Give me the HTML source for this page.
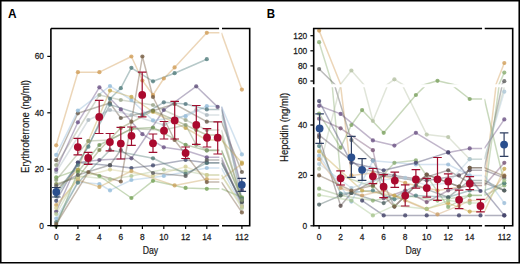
<!DOCTYPE html>
<html><head><meta charset="utf-8"><style>
html,body{margin:0;padding:0;background:#fff;}
body{width:520px;height:264px;overflow:hidden;position:relative;}
svg{position:absolute;left:0;top:0;}
text{font-family:"Liberation Sans",sans-serif;fill:#1a1a1a;}
.tk{font-size:9.6px;stroke:#1a1a1a;stroke-width:0.25px;}
.lb{font-size:10px;stroke:#1a1a1a;stroke-width:0.2px;}
.pl{font-size:12.5px;font-weight:bold;fill:#000;}
</style></head><body>
<svg width="520" height="264" viewBox="0 0 520 264">
<defs>
<filter id="bl" x="-5%" y="-5%" width="110%" height="110%"><feGaussianBlur stdDeviation="0.5"/></filter>
<clipPath id="cAL"><rect x="50.6" y="28.5" width="169.0" height="197.1"/></clipPath>
<clipPath id="cAR"><rect x="221.4" y="28.5" width="28.1" height="197.1"/></clipPath>
<clipPath id="cBUL"><rect x="313.9" y="28.5" width="168.3" height="55.7"/></clipPath>
<clipPath id="cBUR"><rect x="484.4" y="28.5" width="28" height="55.7"/></clipPath>
<clipPath id="cBLL"><rect x="313.9" y="87.3" width="168.3" height="138.45"/></clipPath>
<clipPath id="cBLR"><rect x="484.4" y="87.3" width="28" height="138.45"/></clipPath>
</defs>
<rect x="0" y="0" width="520" height="264" fill="#fff"/>
<g filter="url(#bl)"><g fill="none" stroke-width="1.5" stroke-opacity="0.42" stroke-linejoin="round"><g clip-path="url(#cAL)"><polyline points="56.2,145.3 77.9,72.2 99.4,72.2 131.4,56.5 142.4,80.5 153.0,95.0 163.8,78.5 174.6,67.4 206.8,32.8 219.6,32.8" stroke="#d19e57"/><polyline points="56.2,160.2 77.9,113.3 110.0,103.0 120.8,118.0 153.0,110.8 174.6,104.0 206.8,121.7 219.6,121.7" stroke="#675a4b"/><polyline points="56.2,165.0 99.4,95.0 120.8,100.0 153.0,105.0 185.6,120.0 206.8,130.0 219.6,130.0" stroke="#9aa58b"/><polyline points="56.2,172.0 88.4,120.0 110.0,110.0 131.4,115.0 163.8,125.0 196.2,110.0 206.8,115.0 219.6,115.0" stroke="#aab7be"/><polyline points="56.2,196.2 88.4,146.7 110.0,98.8 120.8,88.2 131.4,67.8 153.0,81.3 174.6,73.2 206.8,59.2" stroke="#517d7d"/><polyline points="56.2,169.7 77.9,122.3 99.4,87.3 120.8,109.4 142.4,134.2 163.8,147.3 185.6,150.5 206.8,157.3 219.6,157.3" stroke="#6a5185"/><polyline points="56.2,211.5 77.9,162.5 99.4,160.0 131.4,158.3 163.8,110.0 196.2,86.3 217.6,106.9 219.6,106.9" stroke="#5f4f7b"/><polyline points="56.2,154.9 77.9,110.6 110.0,86.0 131.4,100.0 153.0,120.4 185.6,116.2 206.8,106.2 219.6,106.2" stroke="#93bbd9"/><polyline points="56.2,218.5 77.9,182.0 99.4,184.0 110.0,190.4 131.4,180.0 163.8,176.0 206.8,168.0 219.6,168.0" stroke="#95bddb"/><polyline points="56.2,200.8 77.9,162.5 110.0,165.4 131.4,168.0 153.0,165.4 185.6,160.0 206.8,162.7 219.6,162.7" stroke="#41486b"/><polyline points="56.2,177.4 77.9,169.7 99.4,176.0 131.4,198.0 153.0,180.8 185.6,187.9 206.8,188.8 219.6,188.8" stroke="#76a256"/><polyline points="56.2,205.0 77.9,180.0 99.4,186.9 131.4,171.0 174.6,185.4 206.8,179.2 219.6,179.2" stroke="#caa45e"/><polyline points="56.2,190.0 77.9,170.0 88.4,141.0 110.0,90.6 131.4,96.9 153.0,112.0 185.6,128.0 206.8,140.0 219.6,140.0" stroke="#c5a84f"/><polyline points="56.2,184.0 77.9,177.4 99.4,150.0 120.8,128.0 153.0,110.8 174.6,120.0 196.2,130.0 206.8,135.0 219.6,135.0" stroke="#798347"/><polyline points="56.2,226.0 77.9,172.0 99.4,145.0 131.4,128.8 153.0,127.5 185.6,144.8 206.8,150.6 219.6,150.6" stroke="#6c9252"/><polyline points="56.2,214.0 77.9,176.0 110.0,179.2 131.4,176.0 163.8,169.6 185.6,171.0 206.8,175.0 219.6,175.0" stroke="#b0c696"/><polyline points="56.2,208.0 77.9,178.0 110.0,169.6 153.0,176.0 185.6,166.7 206.8,175.0 219.6,175.0" stroke="#d5ce94"/><polyline points="56.2,222.0 77.9,182.7 110.0,150.0 153.0,158.3 185.6,173.8 206.8,162.9 219.6,162.9" stroke="#557b76"/><polyline points="56.2,192.0 77.9,165.0 110.0,104.6 142.4,115.0 163.8,102.3 185.6,104.0 206.8,109.4 219.6,109.4" stroke="#53777f"/><polyline points="56.2,224.0 88.4,172.1 120.8,181.5 131.4,121.7 142.4,56.5 153.0,97.0 174.6,140.0 206.8,182.1 219.6,182.1" stroke="#745a40"/><polyline points="56.2,186.0 77.9,175.0 110.0,165.0 120.8,150.0 153.0,173.0 185.6,176.0 206.8,160.0 219.6,160.0" stroke="#5a5a5a"/><polyline points="56.2,180.0 88.4,141.0 110.0,140.0 131.4,128.8 163.8,130.0 185.6,125.0 196.2,144.8 206.8,150.0 219.6,150.0" stroke="#8a9b75"/></g><g clip-path="url(#cAR)"><polyline points="221.4,32.8 241.9,89.6" stroke="#d19e57"/><polyline points="221.4,121.7 241.9,172.0" stroke="#675a4b"/><polyline points="221.4,130.0 241.9,200.0" stroke="#9aa58b"/><polyline points="221.4,115.0 241.9,190.0" stroke="#aab7be"/><polyline points="221.4,157.3 241.9,206.0" stroke="#6a5185"/><polyline points="221.4,106.9 241.9,190.0" stroke="#5f4f7b"/><polyline points="221.4,106.2 241.9,154.4" stroke="#93bbd9"/><polyline points="221.4,168.0 241.9,206.0" stroke="#95bddb"/><polyline points="221.4,162.7 241.9,202.0" stroke="#41486b"/><polyline points="221.4,188.8 241.9,197.3" stroke="#76a256"/><polyline points="221.4,179.2 241.9,163.8" stroke="#caa45e"/><polyline points="221.4,140.0 241.9,162.7" stroke="#c5a84f"/><polyline points="221.4,135.0 241.9,200.0" stroke="#798347"/><polyline points="221.4,150.6 241.9,198.0" stroke="#6c9252"/><polyline points="221.4,175.0 241.9,208.0" stroke="#b0c696"/><polyline points="221.4,175.0 241.9,206.0" stroke="#d5ce94"/><polyline points="221.4,162.9 241.9,202.0" stroke="#557b76"/><polyline points="221.4,109.4 241.9,199.0" stroke="#53777f"/><polyline points="221.4,182.1 241.9,212.4" stroke="#745a40"/><polyline points="221.4,160.0 241.9,202.0" stroke="#5a5a5a"/><polyline points="221.4,150.0 241.9,200.0" stroke="#8a9b75"/></g></g><g fill-opacity="0.8"><circle cx="56.2" cy="145.3" r="2.1" fill="#d19e57"/><circle cx="77.9" cy="72.2" r="2.1" fill="#d19e57"/><circle cx="99.4" cy="72.2" r="2.1" fill="#d19e57"/><circle cx="131.4" cy="56.5" r="2.1" fill="#d19e57"/><circle cx="142.4" cy="80.5" r="2.1" fill="#d19e57"/><circle cx="153.0" cy="95.0" r="2.1" fill="#d19e57"/><circle cx="163.8" cy="78.5" r="2.1" fill="#d19e57"/><circle cx="174.6" cy="67.4" r="2.1" fill="#d19e57"/><circle cx="206.8" cy="32.8" r="2.1" fill="#d19e57"/><circle cx="241.9" cy="89.6" r="2.1" fill="#d19e57"/><circle cx="56.2" cy="160.2" r="2.1" fill="#675a4b"/><circle cx="77.9" cy="113.3" r="2.1" fill="#675a4b"/><circle cx="110.0" cy="103.0" r="2.1" fill="#675a4b"/><circle cx="120.8" cy="118.0" r="2.1" fill="#675a4b"/><circle cx="153.0" cy="110.8" r="2.1" fill="#675a4b"/><circle cx="174.6" cy="104.0" r="2.1" fill="#675a4b"/><circle cx="206.8" cy="121.7" r="2.1" fill="#675a4b"/><circle cx="241.9" cy="172.0" r="2.1" fill="#675a4b"/><circle cx="56.2" cy="165.0" r="2.1" fill="#9aa58b"/><circle cx="99.4" cy="95.0" r="2.1" fill="#9aa58b"/><circle cx="120.8" cy="100.0" r="2.1" fill="#9aa58b"/><circle cx="153.0" cy="105.0" r="2.1" fill="#9aa58b"/><circle cx="185.6" cy="120.0" r="2.1" fill="#9aa58b"/><circle cx="206.8" cy="130.0" r="2.1" fill="#9aa58b"/><circle cx="241.9" cy="200.0" r="2.1" fill="#9aa58b"/><circle cx="56.2" cy="172.0" r="2.1" fill="#aab7be"/><circle cx="88.4" cy="120.0" r="2.1" fill="#aab7be"/><circle cx="110.0" cy="110.0" r="2.1" fill="#aab7be"/><circle cx="131.4" cy="115.0" r="2.1" fill="#aab7be"/><circle cx="163.8" cy="125.0" r="2.1" fill="#aab7be"/><circle cx="196.2" cy="110.0" r="2.1" fill="#aab7be"/><circle cx="206.8" cy="115.0" r="2.1" fill="#aab7be"/><circle cx="241.9" cy="190.0" r="2.1" fill="#aab7be"/><circle cx="56.2" cy="196.2" r="2.1" fill="#517d7d"/><circle cx="88.4" cy="146.7" r="2.1" fill="#517d7d"/><circle cx="110.0" cy="98.8" r="2.1" fill="#517d7d"/><circle cx="120.8" cy="88.2" r="2.1" fill="#517d7d"/><circle cx="131.4" cy="67.8" r="2.1" fill="#517d7d"/><circle cx="153.0" cy="81.3" r="2.1" fill="#517d7d"/><circle cx="174.6" cy="73.2" r="2.1" fill="#517d7d"/><circle cx="206.8" cy="59.2" r="2.1" fill="#517d7d"/><circle cx="56.2" cy="169.7" r="2.1" fill="#6a5185"/><circle cx="77.9" cy="122.3" r="2.1" fill="#6a5185"/><circle cx="99.4" cy="87.3" r="2.1" fill="#6a5185"/><circle cx="120.8" cy="109.4" r="2.1" fill="#6a5185"/><circle cx="142.4" cy="134.2" r="2.1" fill="#6a5185"/><circle cx="163.8" cy="147.3" r="2.1" fill="#6a5185"/><circle cx="185.6" cy="150.5" r="2.1" fill="#6a5185"/><circle cx="206.8" cy="157.3" r="2.1" fill="#6a5185"/><circle cx="241.9" cy="206.0" r="2.1" fill="#6a5185"/><circle cx="56.2" cy="211.5" r="2.1" fill="#5f4f7b"/><circle cx="77.9" cy="162.5" r="2.1" fill="#5f4f7b"/><circle cx="99.4" cy="160.0" r="2.1" fill="#5f4f7b"/><circle cx="131.4" cy="158.3" r="2.1" fill="#5f4f7b"/><circle cx="163.8" cy="110.0" r="2.1" fill="#5f4f7b"/><circle cx="196.2" cy="86.3" r="2.1" fill="#5f4f7b"/><circle cx="217.6" cy="106.9" r="2.1" fill="#5f4f7b"/><circle cx="241.9" cy="190.0" r="2.1" fill="#5f4f7b"/><circle cx="56.2" cy="154.9" r="2.1" fill="#93bbd9"/><circle cx="77.9" cy="110.6" r="2.1" fill="#93bbd9"/><circle cx="110.0" cy="86.0" r="2.1" fill="#93bbd9"/><circle cx="131.4" cy="100.0" r="2.1" fill="#93bbd9"/><circle cx="153.0" cy="120.4" r="2.1" fill="#93bbd9"/><circle cx="185.6" cy="116.2" r="2.1" fill="#93bbd9"/><circle cx="206.8" cy="106.2" r="2.1" fill="#93bbd9"/><circle cx="241.9" cy="154.4" r="2.1" fill="#93bbd9"/><circle cx="56.2" cy="218.5" r="2.1" fill="#95bddb"/><circle cx="77.9" cy="182.0" r="2.1" fill="#95bddb"/><circle cx="99.4" cy="184.0" r="2.1" fill="#95bddb"/><circle cx="110.0" cy="190.4" r="2.1" fill="#95bddb"/><circle cx="131.4" cy="180.0" r="2.1" fill="#95bddb"/><circle cx="163.8" cy="176.0" r="2.1" fill="#95bddb"/><circle cx="206.8" cy="168.0" r="2.1" fill="#95bddb"/><circle cx="241.9" cy="206.0" r="2.1" fill="#95bddb"/><circle cx="56.2" cy="200.8" r="2.1" fill="#41486b"/><circle cx="77.9" cy="162.5" r="2.1" fill="#41486b"/><circle cx="110.0" cy="165.4" r="2.1" fill="#41486b"/><circle cx="131.4" cy="168.0" r="2.1" fill="#41486b"/><circle cx="153.0" cy="165.4" r="2.1" fill="#41486b"/><circle cx="185.6" cy="160.0" r="2.1" fill="#41486b"/><circle cx="206.8" cy="162.7" r="2.1" fill="#41486b"/><circle cx="241.9" cy="202.0" r="2.1" fill="#41486b"/><circle cx="56.2" cy="177.4" r="2.1" fill="#76a256"/><circle cx="77.9" cy="169.7" r="2.1" fill="#76a256"/><circle cx="99.4" cy="176.0" r="2.1" fill="#76a256"/><circle cx="131.4" cy="198.0" r="2.1" fill="#76a256"/><circle cx="153.0" cy="180.8" r="2.1" fill="#76a256"/><circle cx="185.6" cy="187.9" r="2.1" fill="#76a256"/><circle cx="206.8" cy="188.8" r="2.1" fill="#76a256"/><circle cx="241.9" cy="197.3" r="2.1" fill="#76a256"/><circle cx="56.2" cy="205.0" r="2.1" fill="#caa45e"/><circle cx="77.9" cy="180.0" r="2.1" fill="#caa45e"/><circle cx="99.4" cy="186.9" r="2.1" fill="#caa45e"/><circle cx="131.4" cy="171.0" r="2.1" fill="#caa45e"/><circle cx="174.6" cy="185.4" r="2.1" fill="#caa45e"/><circle cx="206.8" cy="179.2" r="2.1" fill="#caa45e"/><circle cx="241.9" cy="163.8" r="2.1" fill="#caa45e"/><circle cx="56.2" cy="190.0" r="2.1" fill="#c5a84f"/><circle cx="77.9" cy="170.0" r="2.1" fill="#c5a84f"/><circle cx="88.4" cy="141.0" r="2.1" fill="#c5a84f"/><circle cx="110.0" cy="90.6" r="2.1" fill="#c5a84f"/><circle cx="131.4" cy="96.9" r="2.1" fill="#c5a84f"/><circle cx="153.0" cy="112.0" r="2.1" fill="#c5a84f"/><circle cx="185.6" cy="128.0" r="2.1" fill="#c5a84f"/><circle cx="206.8" cy="140.0" r="2.1" fill="#c5a84f"/><circle cx="241.9" cy="162.7" r="2.1" fill="#c5a84f"/><circle cx="56.2" cy="184.0" r="2.1" fill="#798347"/><circle cx="77.9" cy="177.4" r="2.1" fill="#798347"/><circle cx="99.4" cy="150.0" r="2.1" fill="#798347"/><circle cx="120.8" cy="128.0" r="2.1" fill="#798347"/><circle cx="153.0" cy="110.8" r="2.1" fill="#798347"/><circle cx="174.6" cy="120.0" r="2.1" fill="#798347"/><circle cx="196.2" cy="130.0" r="2.1" fill="#798347"/><circle cx="206.8" cy="135.0" r="2.1" fill="#798347"/><circle cx="241.9" cy="200.0" r="2.1" fill="#798347"/><circle cx="56.2" cy="226.0" r="2.1" fill="#6c9252"/><circle cx="77.9" cy="172.0" r="2.1" fill="#6c9252"/><circle cx="99.4" cy="145.0" r="2.1" fill="#6c9252"/><circle cx="131.4" cy="128.8" r="2.1" fill="#6c9252"/><circle cx="153.0" cy="127.5" r="2.1" fill="#6c9252"/><circle cx="185.6" cy="144.8" r="2.1" fill="#6c9252"/><circle cx="206.8" cy="150.6" r="2.1" fill="#6c9252"/><circle cx="241.9" cy="198.0" r="2.1" fill="#6c9252"/><circle cx="56.2" cy="214.0" r="2.1" fill="#b0c696"/><circle cx="77.9" cy="176.0" r="2.1" fill="#b0c696"/><circle cx="110.0" cy="179.2" r="2.1" fill="#b0c696"/><circle cx="131.4" cy="176.0" r="2.1" fill="#b0c696"/><circle cx="163.8" cy="169.6" r="2.1" fill="#b0c696"/><circle cx="185.6" cy="171.0" r="2.1" fill="#b0c696"/><circle cx="206.8" cy="175.0" r="2.1" fill="#b0c696"/><circle cx="241.9" cy="208.0" r="2.1" fill="#b0c696"/><circle cx="56.2" cy="208.0" r="2.1" fill="#d5ce94"/><circle cx="77.9" cy="178.0" r="2.1" fill="#d5ce94"/><circle cx="110.0" cy="169.6" r="2.1" fill="#d5ce94"/><circle cx="153.0" cy="176.0" r="2.1" fill="#d5ce94"/><circle cx="185.6" cy="166.7" r="2.1" fill="#d5ce94"/><circle cx="206.8" cy="175.0" r="2.1" fill="#d5ce94"/><circle cx="241.9" cy="206.0" r="2.1" fill="#d5ce94"/><circle cx="56.2" cy="222.0" r="2.1" fill="#557b76"/><circle cx="77.9" cy="182.7" r="2.1" fill="#557b76"/><circle cx="110.0" cy="150.0" r="2.1" fill="#557b76"/><circle cx="153.0" cy="158.3" r="2.1" fill="#557b76"/><circle cx="185.6" cy="173.8" r="2.1" fill="#557b76"/><circle cx="206.8" cy="162.9" r="2.1" fill="#557b76"/><circle cx="241.9" cy="202.0" r="2.1" fill="#557b76"/><circle cx="56.2" cy="192.0" r="2.1" fill="#53777f"/><circle cx="77.9" cy="165.0" r="2.1" fill="#53777f"/><circle cx="110.0" cy="104.6" r="2.1" fill="#53777f"/><circle cx="142.4" cy="115.0" r="2.1" fill="#53777f"/><circle cx="163.8" cy="102.3" r="2.1" fill="#53777f"/><circle cx="185.6" cy="104.0" r="2.1" fill="#53777f"/><circle cx="206.8" cy="109.4" r="2.1" fill="#53777f"/><circle cx="241.9" cy="199.0" r="2.1" fill="#53777f"/><circle cx="56.2" cy="224.0" r="2.1" fill="#745a40"/><circle cx="88.4" cy="172.1" r="2.1" fill="#745a40"/><circle cx="120.8" cy="181.5" r="2.1" fill="#745a40"/><circle cx="131.4" cy="121.7" r="2.1" fill="#745a40"/><circle cx="142.4" cy="56.5" r="2.1" fill="#745a40"/><circle cx="153.0" cy="97.0" r="2.1" fill="#745a40"/><circle cx="174.6" cy="140.0" r="2.1" fill="#745a40"/><circle cx="206.8" cy="182.1" r="2.1" fill="#745a40"/><circle cx="241.9" cy="212.4" r="2.1" fill="#745a40"/><circle cx="56.2" cy="186.0" r="2.1" fill="#5a5a5a"/><circle cx="77.9" cy="175.0" r="2.1" fill="#5a5a5a"/><circle cx="110.0" cy="165.0" r="2.1" fill="#5a5a5a"/><circle cx="120.8" cy="150.0" r="2.1" fill="#5a5a5a"/><circle cx="153.0" cy="173.0" r="2.1" fill="#5a5a5a"/><circle cx="185.6" cy="176.0" r="2.1" fill="#5a5a5a"/><circle cx="206.8" cy="160.0" r="2.1" fill="#5a5a5a"/><circle cx="241.9" cy="202.0" r="2.1" fill="#5a5a5a"/><circle cx="56.2" cy="180.0" r="2.1" fill="#8a9b75"/><circle cx="88.4" cy="141.0" r="2.1" fill="#8a9b75"/><circle cx="110.0" cy="140.0" r="2.1" fill="#8a9b75"/><circle cx="131.4" cy="128.8" r="2.1" fill="#8a9b75"/><circle cx="163.8" cy="130.0" r="2.1" fill="#8a9b75"/><circle cx="185.6" cy="125.0" r="2.1" fill="#8a9b75"/><circle cx="196.2" cy="144.8" r="2.1" fill="#8a9b75"/><circle cx="206.8" cy="150.0" r="2.1" fill="#8a9b75"/><circle cx="241.9" cy="200.0" r="2.1" fill="#8a9b75"/></g></g>
<path d="M56.3 187.5V197.0M52.0 187.5h8.6M52.0 197.0h8.6" stroke="#2f3f62" stroke-width="1.2" fill="none"/>
<circle cx="56.3" cy="192.0" r="3.9" fill="#2b4f8e"/>
<path d="M77.8 138.3V154.8M73.5 138.3h8.6M73.5 154.8h8.6" stroke="#9e0e2e" stroke-width="1.2" fill="none"/>
<circle cx="77.8" cy="147.1" r="3.9" fill="#aa0a2e"/>
<path d="M88.2 152.3V164.4M83.9 152.3h8.6M83.9 164.4h8.6" stroke="#9e0e2e" stroke-width="1.2" fill="none"/>
<circle cx="88.2" cy="158.0" r="3.9" fill="#aa0a2e"/>
<path d="M99.2 100.3V133.5M94.9 100.3h8.6M94.9 133.5h8.6" stroke="#9e0e2e" stroke-width="1.2" fill="none"/>
<circle cx="99.2" cy="117.0" r="3.9" fill="#aa0a2e"/>
<path d="M109.9 133.5V150.8M105.6 133.5h8.6M105.6 150.8h8.6" stroke="#9e0e2e" stroke-width="1.2" fill="none"/>
<circle cx="109.9" cy="142.1" r="3.9" fill="#aa0a2e"/>
<path d="M120.8 127.3V159.0M116.5 127.3h8.6M116.5 159.0h8.6" stroke="#9e0e2e" stroke-width="1.2" fill="none"/>
<circle cx="120.8" cy="143.6" r="3.9" fill="#aa0a2e"/>
<path d="M131.5 127.0V145.3M127.2 127.0h8.6M127.2 145.3h8.6" stroke="#9e0e2e" stroke-width="1.2" fill="none"/>
<circle cx="131.5" cy="135.8" r="3.9" fill="#aa0a2e"/>
<path d="M142.2 72.1V116.9M137.9 72.1h8.6M137.9 116.9h8.6" stroke="#9e0e2e" stroke-width="1.2" fill="none"/>
<circle cx="142.2" cy="94.9" r="3.9" fill="#aa0a2e"/>
<path d="M153.0 134.0V152.3M148.7 134.0h8.6M148.7 152.3h8.6" stroke="#9e0e2e" stroke-width="1.2" fill="none"/>
<circle cx="153.0" cy="143.3" r="3.9" fill="#aa0a2e"/>
<path d="M164.0 121.5V139.0M159.7 121.5h8.6M159.7 139.0h8.6" stroke="#9e0e2e" stroke-width="1.2" fill="none"/>
<circle cx="164.0" cy="130.7" r="3.9" fill="#aa0a2e"/>
<path d="M174.7 101.4V139.0M170.4 101.4h8.6M170.4 139.0h8.6" stroke="#9e0e2e" stroke-width="1.2" fill="none"/>
<circle cx="174.7" cy="120.4" r="3.9" fill="#aa0a2e"/>
<path d="M185.6 147.0V158.5M181.3 147.0h8.6M181.3 158.5h8.6" stroke="#9e0e2e" stroke-width="1.2" fill="none"/>
<circle cx="185.6" cy="153.1" r="3.9" fill="#aa0a2e"/>
<path d="M196.3 105.5V144.4M192.0 105.5h8.6M192.0 144.4h8.6" stroke="#9e0e2e" stroke-width="1.2" fill="none"/>
<circle cx="196.3" cy="124.9" r="3.9" fill="#aa0a2e"/>
<path d="M207.0 128.6V147.0M202.7 128.6h8.6M202.7 147.0h8.6" stroke="#9e0e2e" stroke-width="1.2" fill="none"/>
<circle cx="207.0" cy="137.7" r="3.9" fill="#aa0a2e"/>
<path d="M217.7 121.9V154.0M213.4 121.9h8.6M213.4 154.0h8.6" stroke="#9e0e2e" stroke-width="1.2" fill="none"/>
<circle cx="217.7" cy="137.7" r="3.9" fill="#aa0a2e"/>
<path d="M241.8 178.3V191.3M237.5 178.3h8.6M237.5 191.3h8.6" stroke="#2f3f62" stroke-width="1.2" fill="none"/>
<circle cx="241.8" cy="184.8" r="3.9" fill="#2b4f8e"/>
<path d="M50.9 28.45V225.8H219.1M222 225.8H249.7V28.45H222M219.1 28.45H50.9" stroke="#000" stroke-width="1.6" fill="none"/>
<path d="M47.3 225.6H50.9" stroke="#000" stroke-width="1.2"/>
<text transform="translate(44.00 228.60) scale(0.87 1)" text-anchor="end" class="tk">0</text>
<path d="M47.3 169.2H50.9" stroke="#000" stroke-width="1.2"/>
<text transform="translate(44.00 172.20) scale(0.87 1)" text-anchor="end" class="tk">20</text>
<path d="M47.3 112.8H50.9" stroke="#000" stroke-width="1.2"/>
<text transform="translate(44.00 115.80) scale(0.87 1)" text-anchor="end" class="tk">40</text>
<path d="M47.3 56.4H50.9" stroke="#000" stroke-width="1.2"/>
<text transform="translate(44.00 59.40) scale(0.87 1)" text-anchor="end" class="tk">60</text>
<path d="M56.2 225.8V229" stroke="#000" stroke-width="1.2"/>
<text transform="translate(56.20 240.10) scale(0.87 1)" text-anchor="middle" class="tk">0</text>
<path d="M77.9 225.8V229" stroke="#000" stroke-width="1.2"/>
<text transform="translate(77.90 240.10) scale(0.87 1)" text-anchor="middle" class="tk">2</text>
<path d="M99.4 225.8V229" stroke="#000" stroke-width="1.2"/>
<text transform="translate(99.40 240.10) scale(0.87 1)" text-anchor="middle" class="tk">4</text>
<path d="M120.8 225.8V229" stroke="#000" stroke-width="1.2"/>
<text transform="translate(120.80 240.10) scale(0.87 1)" text-anchor="middle" class="tk">6</text>
<path d="M142.4 225.8V229" stroke="#000" stroke-width="1.2"/>
<text transform="translate(142.40 240.10) scale(0.87 1)" text-anchor="middle" class="tk">8</text>
<path d="M163.8 225.8V229" stroke="#000" stroke-width="1.2"/>
<text transform="translate(163.80 240.10) scale(0.87 1)" text-anchor="middle" class="tk">10</text>
<path d="M185.6 225.8V229" stroke="#000" stroke-width="1.2"/>
<text transform="translate(185.60 240.10) scale(0.87 1)" text-anchor="middle" class="tk">12</text>
<path d="M206.8 225.8V229" stroke="#000" stroke-width="1.2"/>
<text transform="translate(206.80 240.10) scale(0.87 1)" text-anchor="middle" class="tk">14</text>
<path d="M241.9 225.8V229" stroke="#000" stroke-width="1.2"/>
<text transform="translate(241.90 240.10) scale(0.87 1)" text-anchor="middle" class="tk">112</text>
<text transform="translate(150.40 254.20) scale(0.87 1)" text-anchor="middle" class="lb">Day</text>
<text transform="translate(28.8 126.5) rotate(-90) scale(0.95 1)" text-anchor="middle" class="lb">Erythroferrone (ng/ml)</text>
<text transform="translate(8.0 17.8) scale(0.95 1)" class="pl">A</text>
<g filter="url(#bl)"><g fill="none" stroke-width="1.5" stroke-opacity="0.42" stroke-linejoin="round"><g clip-path="url(#cBUL)"><polyline points="319.1,30.6 351.4,111.2 372.9,110.4 405.2,113.5 437.5,115.7 469.7,114.2 482.2,114.2" stroke="#d19e57"/><polyline points="319.1,42.2 340.6,111.3 372.9,114.6 394.4,107.4 415.9,106.7 448.2,120.6 469.7,117.2 482.2,117.2" stroke="#89ac70"/><polyline points="319.1,69.0 351.4,100.6 372.9,106.7 394.4,120.6 426.7,111.0 459.0,114.5 469.7,108.9 482.2,108.9" stroke="#5e5e5e"/><polyline points="319.1,109.2 340.6,84.2 351.4,70.5 372.9,94.9 394.4,79.3 426.7,99.0 448.2,99.7 469.7,106.4 482.2,106.4" stroke="#b5c2a4"/><polyline points="319.1,92.7 340.6,102.9 351.4,96.1 362.1,91.6 383.7,98.4 415.9,87.1 437.5,80.8 469.7,88.3 482.2,88.3" stroke="#7da260"/><polyline points="319.1,115.2 340.6,117.2 372.9,118.8 405.2,117.2 437.5,118.8 469.7,117.2 482.2,117.2" stroke="#8eb177"/><polyline points="319.1,99.1 362.1,109.3 394.4,111.2 426.7,112.7 459.0,111.2 469.7,109.7 482.2,109.7" stroke="#594c5e"/><polyline points="319.1,90.4 340.6,92.8 372.9,100.7 394.4,102.3 415.9,98.4 448.2,104.3 469.7,103.1 482.2,103.1" stroke="#6c5284"/><polyline points="319.1,94.2 340.6,97.1 372.9,103.7 383.7,118.1 405.2,115.7 426.7,119.2 448.2,115.7 469.7,114.2 482.2,114.2" stroke="#765274"/><polyline points="319.1,99.7 340.6,120.3 351.4,116.5 383.7,111.2 415.9,112.7 448.2,109.7 469.7,113.5 482.2,113.5" stroke="#584b4a"/><polyline points="319.1,102.4 340.6,116.6 372.9,115.7 394.4,118.4 415.9,117.2 448.2,117.8 469.7,115.7 482.2,115.7" stroke="#528282"/><polyline points="319.1,104.0 362.1,115.7 394.4,117.2 426.7,121.2 448.2,119.5 469.7,122.1 482.2,122.1" stroke="#c9a94f"/><polyline points="319.1,105.3 351.4,119.1 372.9,106.8 415.9,108.0 448.2,108.0 469.7,111.2 482.2,111.2" stroke="#98bbd8"/><polyline points="319.1,106.4 340.6,115.0 362.1,117.2 383.7,115.7 405.2,118.8 437.5,122.9 459.0,120.3 469.7,118.8 482.2,118.8" stroke="#cc9f68"/><polyline points="319.1,107.8 351.4,115.0 372.9,112.7 405.2,112.0 426.7,114.2 448.2,113.5 469.7,106.4 482.2,106.4" stroke="#adc7d7"/><polyline points="362.1,118.8 383.7,123.2 405.2,123.2 426.7,123.2 459.0,123.2 480.5,123.2 482.2,123.2" stroke="#414167"/><polyline points="319.1,120.0 340.6,117.2 351.4,116.5 383.7,119.5 415.9,114.2 448.2,117.8 469.7,112.7 482.2,112.7" stroke="#4f6363"/><polyline points="319.1,117.1 351.4,118.8 372.9,123.2 394.4,120.3 426.7,121.2 448.2,118.8 469.7,119.5 482.2,119.5" stroke="#a8c58f"/><polyline points="319.1,111.2 351.4,115.7 372.9,114.2 394.4,120.6 426.7,111.0 459.0,114.5 469.7,108.9 482.2,108.9" stroke="#745a40"/><polyline points="319.1,88.9 351.4,107.4 383.7,109.7 415.9,107.4 448.2,104.3 480.5,115.9 482.2,115.9" stroke="#43436b"/></g><g clip-path="url(#cBUR)"><polyline points="484.4,114.2 504.3,63.0" stroke="#d19e57"/><polyline points="484.4,117.2 504.3,72.6" stroke="#89ac70"/><polyline points="484.4,108.9 504.3,81.2" stroke="#5e5e5e"/><polyline points="484.4,106.4 504.3,84.8" stroke="#b5c2a4"/><polyline points="484.4,88.3 504.3,113.5" stroke="#7da260"/><polyline points="484.4,117.2 504.3,114.2" stroke="#8eb177"/><polyline points="484.4,109.7 504.3,112.0" stroke="#594c5e"/><polyline points="484.4,103.1 504.3,94.4" stroke="#6c5284"/><polyline points="484.4,114.2 504.3,107.4" stroke="#765274"/><polyline points="484.4,113.5 504.3,115.7" stroke="#584b4a"/><polyline points="484.4,115.7 504.3,113.5" stroke="#528282"/><polyline points="484.4,122.1 504.3,109.2" stroke="#c9a94f"/><polyline points="484.4,111.2 504.3,119.5" stroke="#98bbd8"/><polyline points="484.4,118.8 504.3,111.2" stroke="#cc9f68"/><polyline points="484.4,106.4 504.3,86.1" stroke="#adc7d7"/><polyline points="484.4,123.2 504.3,123.2" stroke="#414167"/><polyline points="484.4,112.7 504.3,115.7" stroke="#4f6363"/><polyline points="484.4,119.5 504.3,112.7" stroke="#a8c58f"/><polyline points="484.4,108.9 504.3,111.4" stroke="#745a40"/><polyline points="484.4,115.9 504.3,123.2" stroke="#43436b"/></g><g clip-path="url(#cBLL)"><polyline points="319.1,-93.7 351.4,175.4 372.9,172.9 405.2,182.9 437.5,190.5 469.7,185.4 482.2,185.4" stroke="#d19e57"/><polyline points="319.1,-54.9 340.6,175.6 372.9,186.7 394.4,162.8 415.9,160.3 448.2,206.9 469.7,195.3 482.2,195.3" stroke="#89ac70"/><polyline points="319.1,34.6 351.4,140.1 372.9,160.3 394.4,206.6 426.7,174.6 459.0,186.5 469.7,167.8 482.2,167.8" stroke="#5e5e5e"/><polyline points="319.1,168.8 340.6,85.2 351.4,39.6 372.9,121.0 394.4,68.8 426.7,134.6 448.2,137.1 469.7,159.2 482.2,159.2" stroke="#b5c2a4"/><polyline points="319.1,113.7 340.6,147.7 351.4,125.0 362.1,110.1 383.7,132.8 415.9,95.0 437.5,73.9 469.7,99.0 482.2,99.0" stroke="#7da260"/><polyline points="319.1,188.7 340.6,195.5 372.9,200.6 405.2,195.5 437.5,200.6 469.7,195.5 482.2,195.5" stroke="#8eb177"/><polyline points="319.1,135.1 362.1,169.1 394.4,175.4 426.7,180.4 459.0,175.4 469.7,170.3 482.2,170.3" stroke="#594c5e"/><polyline points="319.1,105.8 340.6,113.9 372.9,140.4 394.4,145.6 415.9,132.8 448.2,152.4 469.7,148.4 482.2,148.4" stroke="#6c5284"/><polyline points="319.1,118.7 340.6,128.3 372.9,150.2 383.7,198.3 405.2,190.5 426.7,202.1 448.2,190.5 469.7,185.4 482.2,185.4" stroke="#765274"/><polyline points="319.1,137.1 340.6,205.8 351.4,193.0 383.7,175.4 415.9,180.4 448.2,170.3 469.7,182.9 482.2,182.9" stroke="#584b4a"/><polyline points="319.1,146.1 340.6,193.5 372.9,190.5 394.4,199.3 415.9,195.5 448.2,197.3 469.7,190.5 482.2,190.5" stroke="#528282"/><polyline points="319.1,151.4 362.1,190.5 394.4,195.5 426.7,208.9 448.2,203.1 469.7,211.6 482.2,211.6" stroke="#c9a94f"/><polyline points="319.1,155.7 351.4,201.6 372.9,160.8 415.9,164.5 448.2,164.5 469.7,175.4 482.2,175.4" stroke="#98bbd8"/><polyline points="319.1,159.2 340.6,188.0 362.1,195.5 383.7,190.5 405.2,200.6 437.5,214.4 459.0,205.6 469.7,200.6 482.2,200.6" stroke="#cc9f68"/><polyline points="319.1,164.0 351.4,188.0 372.9,180.4 405.2,177.9 426.7,185.4 448.2,182.9 469.7,159.2 482.2,159.2" stroke="#adc7d7"/><polyline points="362.1,200.6 383.7,215.4 405.2,215.4 426.7,215.4 459.0,215.4 480.5,215.4 482.2,215.4" stroke="#414167"/><polyline points="319.1,204.6 340.6,195.5 351.4,193.0 383.7,203.1 415.9,185.4 448.2,197.3 469.7,180.4 482.2,180.4" stroke="#4f6363"/><polyline points="319.1,195.0 351.4,200.6 372.9,215.4 394.4,205.6 426.7,208.9 448.2,200.6 469.7,203.1 482.2,203.1" stroke="#a8c58f"/><polyline points="319.1,175.4 351.4,190.5 372.9,185.4 394.4,206.6 426.7,174.6 459.0,186.5 469.7,167.8 482.2,167.8" stroke="#745a40"/><polyline points="319.1,101.1 351.4,162.8 383.7,170.3 415.9,162.8 448.2,152.4 480.5,191.0 482.2,191.0" stroke="#43436b"/></g><g clip-path="url(#cBLR)"><polyline points="484.4,185.4 504.3,14.7" stroke="#d19e57"/><polyline points="484.4,195.3 504.3,46.6" stroke="#89ac70"/><polyline points="484.4,167.8 504.3,75.4" stroke="#5e5e5e"/><polyline points="484.4,159.2 504.3,87.2" stroke="#b5c2a4"/><polyline points="484.4,99.0 504.3,183.2" stroke="#7da260"/><polyline points="484.4,195.5 504.3,185.4" stroke="#8eb177"/><polyline points="484.4,170.3 504.3,177.9" stroke="#594c5e"/><polyline points="484.4,148.4 504.3,119.4" stroke="#6c5284"/><polyline points="484.4,185.4 504.3,162.8" stroke="#765274"/><polyline points="484.4,182.9 504.3,190.5" stroke="#584b4a"/><polyline points="484.4,190.5 504.3,183.2" stroke="#528282"/><polyline points="484.4,211.6 504.3,168.8" stroke="#c9a94f"/><polyline points="484.4,175.4 504.3,203.1" stroke="#98bbd8"/><polyline points="484.4,200.6 504.3,175.4" stroke="#cc9f68"/><polyline points="484.4,159.2 504.3,91.7" stroke="#adc7d7"/><polyline points="484.4,215.4 504.3,215.4" stroke="#414167"/><polyline points="484.4,180.4 504.3,190.5" stroke="#4f6363"/><polyline points="484.4,203.1 504.3,180.4" stroke="#a8c58f"/><polyline points="484.4,167.8 504.3,176.1" stroke="#745a40"/><polyline points="484.4,191.0 504.3,215.4" stroke="#43436b"/></g></g><g fill-opacity="0.8"><circle cx="319.1" cy="30.6" r="2.1" fill="#d19e57"/><circle cx="351.4" cy="175.4" r="2.1" fill="#d19e57"/><circle cx="372.9" cy="172.9" r="2.1" fill="#d19e57"/><circle cx="405.2" cy="182.9" r="2.1" fill="#d19e57"/><circle cx="437.5" cy="190.5" r="2.1" fill="#d19e57"/><circle cx="469.7" cy="185.4" r="2.1" fill="#d19e57"/><circle cx="504.3" cy="63.0" r="2.1" fill="#d19e57"/><circle cx="319.1" cy="42.2" r="2.1" fill="#89ac70"/><circle cx="340.6" cy="175.6" r="2.1" fill="#89ac70"/><circle cx="372.9" cy="186.7" r="2.1" fill="#89ac70"/><circle cx="394.4" cy="162.8" r="2.1" fill="#89ac70"/><circle cx="415.9" cy="160.3" r="2.1" fill="#89ac70"/><circle cx="448.2" cy="206.9" r="2.1" fill="#89ac70"/><circle cx="469.7" cy="195.3" r="2.1" fill="#89ac70"/><circle cx="504.3" cy="72.6" r="2.1" fill="#89ac70"/><circle cx="319.1" cy="69.0" r="2.1" fill="#5e5e5e"/><circle cx="351.4" cy="140.1" r="2.1" fill="#5e5e5e"/><circle cx="372.9" cy="160.3" r="2.1" fill="#5e5e5e"/><circle cx="394.4" cy="206.6" r="2.1" fill="#5e5e5e"/><circle cx="426.7" cy="174.6" r="2.1" fill="#5e5e5e"/><circle cx="459.0" cy="186.5" r="2.1" fill="#5e5e5e"/><circle cx="469.7" cy="167.8" r="2.1" fill="#5e5e5e"/><circle cx="504.3" cy="81.2" r="2.1" fill="#5e5e5e"/><circle cx="319.1" cy="168.8" r="2.1" fill="#b5c2a4"/><circle cx="351.4" cy="70.5" r="2.1" fill="#b5c2a4"/><circle cx="372.9" cy="121.0" r="2.1" fill="#b5c2a4"/><circle cx="394.4" cy="79.3" r="2.1" fill="#b5c2a4"/><circle cx="426.7" cy="134.6" r="2.1" fill="#b5c2a4"/><circle cx="448.2" cy="137.1" r="2.1" fill="#b5c2a4"/><circle cx="469.7" cy="159.2" r="2.1" fill="#b5c2a4"/><circle cx="319.1" cy="113.7" r="2.1" fill="#7da260"/><circle cx="340.6" cy="147.7" r="2.1" fill="#7da260"/><circle cx="351.4" cy="125.0" r="2.1" fill="#7da260"/><circle cx="362.1" cy="110.1" r="2.1" fill="#7da260"/><circle cx="383.7" cy="132.8" r="2.1" fill="#7da260"/><circle cx="415.9" cy="95.0" r="2.1" fill="#7da260"/><circle cx="437.5" cy="80.8" r="2.1" fill="#7da260"/><circle cx="469.7" cy="99.0" r="2.1" fill="#7da260"/><circle cx="504.3" cy="183.2" r="2.1" fill="#7da260"/><circle cx="319.1" cy="188.7" r="2.1" fill="#8eb177"/><circle cx="340.6" cy="195.5" r="2.1" fill="#8eb177"/><circle cx="372.9" cy="200.6" r="2.1" fill="#8eb177"/><circle cx="405.2" cy="195.5" r="2.1" fill="#8eb177"/><circle cx="437.5" cy="200.6" r="2.1" fill="#8eb177"/><circle cx="469.7" cy="195.5" r="2.1" fill="#8eb177"/><circle cx="504.3" cy="185.4" r="2.1" fill="#8eb177"/><circle cx="319.1" cy="135.1" r="2.1" fill="#594c5e"/><circle cx="362.1" cy="169.1" r="2.1" fill="#594c5e"/><circle cx="394.4" cy="175.4" r="2.1" fill="#594c5e"/><circle cx="426.7" cy="180.4" r="2.1" fill="#594c5e"/><circle cx="459.0" cy="175.4" r="2.1" fill="#594c5e"/><circle cx="469.7" cy="170.3" r="2.1" fill="#594c5e"/><circle cx="504.3" cy="177.9" r="2.1" fill="#594c5e"/><circle cx="319.1" cy="105.8" r="2.1" fill="#6c5284"/><circle cx="340.6" cy="113.9" r="2.1" fill="#6c5284"/><circle cx="372.9" cy="140.4" r="2.1" fill="#6c5284"/><circle cx="394.4" cy="145.6" r="2.1" fill="#6c5284"/><circle cx="415.9" cy="132.8" r="2.1" fill="#6c5284"/><circle cx="448.2" cy="152.4" r="2.1" fill="#6c5284"/><circle cx="469.7" cy="148.4" r="2.1" fill="#6c5284"/><circle cx="504.3" cy="119.4" r="2.1" fill="#6c5284"/><circle cx="319.1" cy="118.7" r="2.1" fill="#765274"/><circle cx="340.6" cy="128.3" r="2.1" fill="#765274"/><circle cx="372.9" cy="150.2" r="2.1" fill="#765274"/><circle cx="383.7" cy="198.3" r="2.1" fill="#765274"/><circle cx="405.2" cy="190.5" r="2.1" fill="#765274"/><circle cx="426.7" cy="202.1" r="2.1" fill="#765274"/><circle cx="448.2" cy="190.5" r="2.1" fill="#765274"/><circle cx="469.7" cy="185.4" r="2.1" fill="#765274"/><circle cx="504.3" cy="162.8" r="2.1" fill="#765274"/><circle cx="319.1" cy="137.1" r="2.1" fill="#584b4a"/><circle cx="340.6" cy="205.8" r="2.1" fill="#584b4a"/><circle cx="351.4" cy="193.0" r="2.1" fill="#584b4a"/><circle cx="383.7" cy="175.4" r="2.1" fill="#584b4a"/><circle cx="415.9" cy="180.4" r="2.1" fill="#584b4a"/><circle cx="448.2" cy="170.3" r="2.1" fill="#584b4a"/><circle cx="469.7" cy="182.9" r="2.1" fill="#584b4a"/><circle cx="504.3" cy="190.5" r="2.1" fill="#584b4a"/><circle cx="319.1" cy="146.1" r="2.1" fill="#528282"/><circle cx="340.6" cy="193.5" r="2.1" fill="#528282"/><circle cx="372.9" cy="190.5" r="2.1" fill="#528282"/><circle cx="394.4" cy="199.3" r="2.1" fill="#528282"/><circle cx="415.9" cy="195.5" r="2.1" fill="#528282"/><circle cx="448.2" cy="197.3" r="2.1" fill="#528282"/><circle cx="469.7" cy="190.5" r="2.1" fill="#528282"/><circle cx="504.3" cy="183.2" r="2.1" fill="#528282"/><circle cx="319.1" cy="151.4" r="2.1" fill="#c9a94f"/><circle cx="362.1" cy="190.5" r="2.1" fill="#c9a94f"/><circle cx="394.4" cy="195.5" r="2.1" fill="#c9a94f"/><circle cx="426.7" cy="208.9" r="2.1" fill="#c9a94f"/><circle cx="448.2" cy="203.1" r="2.1" fill="#c9a94f"/><circle cx="469.7" cy="211.6" r="2.1" fill="#c9a94f"/><circle cx="504.3" cy="168.8" r="2.1" fill="#c9a94f"/><circle cx="319.1" cy="155.7" r="2.1" fill="#98bbd8"/><circle cx="351.4" cy="201.6" r="2.1" fill="#98bbd8"/><circle cx="372.9" cy="160.8" r="2.1" fill="#98bbd8"/><circle cx="415.9" cy="164.5" r="2.1" fill="#98bbd8"/><circle cx="448.2" cy="164.5" r="2.1" fill="#98bbd8"/><circle cx="469.7" cy="175.4" r="2.1" fill="#98bbd8"/><circle cx="504.3" cy="203.1" r="2.1" fill="#98bbd8"/><circle cx="319.1" cy="159.2" r="2.1" fill="#cc9f68"/><circle cx="340.6" cy="188.0" r="2.1" fill="#cc9f68"/><circle cx="362.1" cy="195.5" r="2.1" fill="#cc9f68"/><circle cx="383.7" cy="190.5" r="2.1" fill="#cc9f68"/><circle cx="405.2" cy="200.6" r="2.1" fill="#cc9f68"/><circle cx="437.5" cy="214.4" r="2.1" fill="#cc9f68"/><circle cx="459.0" cy="205.6" r="2.1" fill="#cc9f68"/><circle cx="469.7" cy="200.6" r="2.1" fill="#cc9f68"/><circle cx="504.3" cy="175.4" r="2.1" fill="#cc9f68"/><circle cx="319.1" cy="164.0" r="2.1" fill="#adc7d7"/><circle cx="351.4" cy="188.0" r="2.1" fill="#adc7d7"/><circle cx="372.9" cy="180.4" r="2.1" fill="#adc7d7"/><circle cx="405.2" cy="177.9" r="2.1" fill="#adc7d7"/><circle cx="426.7" cy="185.4" r="2.1" fill="#adc7d7"/><circle cx="448.2" cy="182.9" r="2.1" fill="#adc7d7"/><circle cx="469.7" cy="159.2" r="2.1" fill="#adc7d7"/><circle cx="504.3" cy="91.7" r="2.1" fill="#adc7d7"/><circle cx="362.1" cy="200.6" r="2.1" fill="#414167"/><circle cx="383.7" cy="215.4" r="2.1" fill="#414167"/><circle cx="405.2" cy="215.4" r="2.1" fill="#414167"/><circle cx="426.7" cy="215.4" r="2.1" fill="#414167"/><circle cx="459.0" cy="215.4" r="2.1" fill="#414167"/><circle cx="480.5" cy="215.4" r="2.1" fill="#414167"/><circle cx="504.3" cy="215.4" r="2.1" fill="#414167"/><circle cx="319.1" cy="204.6" r="2.1" fill="#4f6363"/><circle cx="340.6" cy="195.5" r="2.1" fill="#4f6363"/><circle cx="351.4" cy="193.0" r="2.1" fill="#4f6363"/><circle cx="383.7" cy="203.1" r="2.1" fill="#4f6363"/><circle cx="415.9" cy="185.4" r="2.1" fill="#4f6363"/><circle cx="448.2" cy="197.3" r="2.1" fill="#4f6363"/><circle cx="469.7" cy="180.4" r="2.1" fill="#4f6363"/><circle cx="504.3" cy="190.5" r="2.1" fill="#4f6363"/><circle cx="319.1" cy="195.0" r="2.1" fill="#a8c58f"/><circle cx="351.4" cy="200.6" r="2.1" fill="#a8c58f"/><circle cx="372.9" cy="215.4" r="2.1" fill="#a8c58f"/><circle cx="394.4" cy="205.6" r="2.1" fill="#a8c58f"/><circle cx="426.7" cy="208.9" r="2.1" fill="#a8c58f"/><circle cx="448.2" cy="200.6" r="2.1" fill="#a8c58f"/><circle cx="469.7" cy="203.1" r="2.1" fill="#a8c58f"/><circle cx="504.3" cy="180.4" r="2.1" fill="#a8c58f"/><circle cx="319.1" cy="175.4" r="2.1" fill="#745a40"/><circle cx="351.4" cy="190.5" r="2.1" fill="#745a40"/><circle cx="372.9" cy="185.4" r="2.1" fill="#745a40"/><circle cx="394.4" cy="206.6" r="2.1" fill="#745a40"/><circle cx="426.7" cy="174.6" r="2.1" fill="#745a40"/><circle cx="459.0" cy="186.5" r="2.1" fill="#745a40"/><circle cx="469.7" cy="167.8" r="2.1" fill="#745a40"/><circle cx="504.3" cy="176.1" r="2.1" fill="#745a40"/><circle cx="319.1" cy="101.1" r="2.1" fill="#43436b"/><circle cx="351.4" cy="162.8" r="2.1" fill="#43436b"/><circle cx="383.7" cy="170.3" r="2.1" fill="#43436b"/><circle cx="415.9" cy="162.8" r="2.1" fill="#43436b"/><circle cx="448.2" cy="152.4" r="2.1" fill="#43436b"/><circle cx="480.5" cy="191.0" r="2.1" fill="#43436b"/><circle cx="504.3" cy="215.4" r="2.1" fill="#43436b"/></g></g>
<path d="M319.6 113.8V143.3M315.3 113.8h8.6M315.3 143.3h8.6" stroke="#2f3f62" stroke-width="1.2" fill="none"/>
<circle cx="319.6" cy="128.5" r="3.9" fill="#2b4f8e"/>
<path d="M340.6 170.8V185.0M336.3 170.8h8.6M336.3 185.0h8.6" stroke="#9e0e2e" stroke-width="1.2" fill="none"/>
<circle cx="340.6" cy="178.3" r="3.9" fill="#aa0a2e"/>
<path d="M351.4 136.3V177.4M347.1 136.3h8.6M347.1 177.4h8.6" stroke="#2f3f62" stroke-width="1.2" fill="none"/>
<circle cx="351.4" cy="157.3" r="3.9" fill="#2b4f8e"/>
<path d="M362.1 158.7V180.4M357.8 158.7h8.6M357.8 180.4h8.6" stroke="#2f3f62" stroke-width="1.2" fill="none"/>
<circle cx="362.1" cy="169.8" r="3.9" fill="#2b4f8e"/>
<path d="M372.9 168.5V183.6M368.6 168.5h8.6M368.6 183.6h8.6" stroke="#9e0e2e" stroke-width="1.2" fill="none"/>
<circle cx="372.9" cy="176.3" r="3.9" fill="#aa0a2e"/>
<path d="M383.6 174.6V197.7M379.3 174.6h8.6M379.3 197.7h8.6" stroke="#9e0e2e" stroke-width="1.2" fill="none"/>
<circle cx="383.6" cy="186.7" r="3.9" fill="#aa0a2e"/>
<path d="M394.8 172.2V187.3M390.5 172.2h8.6M390.5 187.3h8.6" stroke="#9e0e2e" stroke-width="1.2" fill="none"/>
<circle cx="394.8" cy="180.6" r="3.9" fill="#aa0a2e"/>
<path d="M405.2 184.8V206.0M400.9 184.8h8.6M400.9 206.0h8.6" stroke="#9e0e2e" stroke-width="1.2" fill="none"/>
<circle cx="405.2" cy="195.6" r="3.9" fill="#aa0a2e"/>
<path d="M415.9 169.6V188.2M411.6 169.6h8.6M411.6 188.2h8.6" stroke="#9e0e2e" stroke-width="1.2" fill="none"/>
<circle cx="415.9" cy="179.4" r="3.9" fill="#aa0a2e"/>
<path d="M426.8 178.3V197.1M422.5 178.3h8.6M422.5 197.1h8.6" stroke="#9e0e2e" stroke-width="1.2" fill="none"/>
<circle cx="426.8" cy="188.1" r="3.9" fill="#aa0a2e"/>
<path d="M437.5 157.5V200.3M433.2 157.5h8.6M433.2 200.3h8.6" stroke="#9e0e2e" stroke-width="1.2" fill="none"/>
<circle cx="437.5" cy="179.3" r="3.9" fill="#aa0a2e"/>
<path d="M448.2 173.8V188.5M443.9 173.8h8.6M443.9 188.5h8.6" stroke="#9e0e2e" stroke-width="1.2" fill="none"/>
<circle cx="448.2" cy="181.5" r="3.9" fill="#aa0a2e"/>
<path d="M459.1 190.2V208.6M454.8 190.2h8.6M454.8 208.6h8.6" stroke="#9e0e2e" stroke-width="1.2" fill="none"/>
<circle cx="459.1" cy="199.8" r="3.9" fill="#aa0a2e"/>
<path d="M469.8 176.7V189.6M465.5 176.7h8.6M465.5 189.6h8.6" stroke="#9e0e2e" stroke-width="1.2" fill="none"/>
<circle cx="469.8" cy="183.6" r="3.9" fill="#aa0a2e"/>
<path d="M480.5 199.4V211.8M476.2 199.4h8.6M476.2 211.8h8.6" stroke="#9e0e2e" stroke-width="1.2" fill="none"/>
<circle cx="480.5" cy="206.0" r="3.9" fill="#aa0a2e"/>
<path d="M504.1 132.9V156.4M499.8 132.9h8.6M499.8 156.4h8.6" stroke="#2f3f62" stroke-width="1.2" fill="none"/>
<circle cx="504.1" cy="144.6" r="3.9" fill="#2b4f8e"/>
<path d="M313.7 84.3V28.45H482.1M484.7 28.45H512.7V225.8H484.7M482.1 225.8H313.7V87.3" stroke="#000" stroke-width="1.6" fill="none"/>
<path d="M310.4 225.8H313.7" stroke="#000" stroke-width="1.2"/>
<text transform="translate(307.20 228.75) scale(0.87 1)" text-anchor="end" class="tk">0</text>
<path d="M310.4 175.4H313.7" stroke="#000" stroke-width="1.2"/>
<text transform="translate(307.20 178.37) scale(0.87 1)" text-anchor="end" class="tk">20</text>
<path d="M310.4 125.0H313.7" stroke="#000" stroke-width="1.2"/>
<text transform="translate(307.20 127.99) scale(0.87 1)" text-anchor="end" class="tk">40</text>
<path d="M310.4 81.0H313.7" stroke="#000" stroke-width="1.2"/>
<text transform="translate(307.20 84.00) scale(0.87 1)" text-anchor="end" class="tk">60</text>
<path d="M310.4 65.9H313.7" stroke="#000" stroke-width="1.2"/>
<text transform="translate(307.20 68.90) scale(0.87 1)" text-anchor="end" class="tk">80</text>
<path d="M310.4 50.8H313.7" stroke="#000" stroke-width="1.2"/>
<text transform="translate(307.20 53.80) scale(0.87 1)" text-anchor="end" class="tk">100</text>
<path d="M310.4 35.7H313.7" stroke="#000" stroke-width="1.2"/>
<text transform="translate(307.20 38.70) scale(0.87 1)" text-anchor="end" class="tk">120</text>
<path d="M319.1 225.8V229" stroke="#000" stroke-width="1.2"/>
<text transform="translate(319.10 240.10) scale(0.87 1)" text-anchor="middle" class="tk">0</text>
<path d="M340.6 225.8V229" stroke="#000" stroke-width="1.2"/>
<text transform="translate(340.62 240.10) scale(0.87 1)" text-anchor="middle" class="tk">2</text>
<path d="M362.1 225.8V229" stroke="#000" stroke-width="1.2"/>
<text transform="translate(362.14 240.10) scale(0.87 1)" text-anchor="middle" class="tk">4</text>
<path d="M383.7 225.8V229" stroke="#000" stroke-width="1.2"/>
<text transform="translate(383.66 240.10) scale(0.87 1)" text-anchor="middle" class="tk">6</text>
<path d="M405.2 225.8V229" stroke="#000" stroke-width="1.2"/>
<text transform="translate(405.18 240.10) scale(0.87 1)" text-anchor="middle" class="tk">8</text>
<path d="M426.7 225.8V229" stroke="#000" stroke-width="1.2"/>
<text transform="translate(426.70 240.10) scale(0.87 1)" text-anchor="middle" class="tk">10</text>
<path d="M448.2 225.8V229" stroke="#000" stroke-width="1.2"/>
<text transform="translate(448.22 240.10) scale(0.87 1)" text-anchor="middle" class="tk">12</text>
<path d="M469.7 225.8V229" stroke="#000" stroke-width="1.2"/>
<text transform="translate(469.74 240.10) scale(0.87 1)" text-anchor="middle" class="tk">14</text>
<path d="M504.3 225.8V229" stroke="#000" stroke-width="1.2"/>
<text transform="translate(504.30 240.10) scale(0.87 1)" text-anchor="middle" class="tk">112</text>
<text transform="translate(413.20 254.20) scale(0.87 1)" text-anchor="middle" class="lb">Day</text>
<text transform="translate(287.6 127.4) rotate(-90) scale(0.95 1)" text-anchor="middle" class="lb">Hepcidin (ng/ml)</text>
<text transform="translate(266.7 17.8) scale(0.92 1)" class="pl">B</text>
<path d="M0.75 0.75H519.25V262.75H0.75Z" stroke="#000" stroke-width="1.6" fill="none"/>
</svg>
</body></html>
